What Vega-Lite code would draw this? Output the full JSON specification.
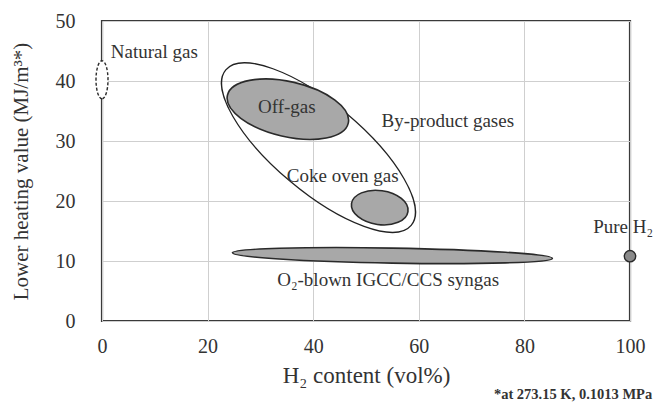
{
  "$schema": "https://vega.github.io/schema/vega-lite/v6.json",
  "width": 528,
  "height": 300,
  "autosize": {"type": "none"},
  "padding": {"left": 102, "top": 21, "right": 24, "bottom": 86},
  "background": "white",
  "config": {
    "view": {"stroke": "#3a3a3a", "strokeWidth": 2.2},
    "font": "Liberation Serif",
    "axis": {
      "labelFont": "Liberation Serif",
      "titleFont": "Liberation Serif",
      "labelColor": "#333333",
      "titleColor": "#333333",
      "gridColor": "#cfcfcf",
      "gridWidth": 1,
      "domain": false,
      "ticks": false,
      "labelFlush": false,
      "labelFontSize": 20,
      "titleFontWeight": "normal"
    }
  },
  "datasets": {
    "regions": [
      {"name": "By-product gases", "h2": 41.0, "lhv": 28.9},
      {"name": "Off-gas", "h2": 35.2, "lhv": 35.3},
      {"name": "Coke oven gas", "h2": 52.6, "lhv": 18.9},
      {"name": "O2-blown IGCC/CCS syngas", "h2": 55.0, "lhv": 10.9},
      {"name": "Natural gas", "h2": 0.0, "lhv": 40.2},
      {"name": "Pure H2", "h2": 100.0, "lhv": 10.8}
    ],
    "labels": [
      {"label": "Natural gas", "h2": 9.9, "lhv": 44.8},
      {"label": "Off-gas", "h2": 35.0, "lhv": 35.6},
      {"label": "By-product gases", "h2": 65.5, "lhv": 33.3},
      {"label": "Coke oven gas", "h2": 45.6, "lhv": 24.2},
      {"label": "O₂-blown IGCC/CCS syngas", "h2": 54.2, "lhv": 6.8},
      {"label": "Pure H₂", "h2": 98.7, "lhv": 15.6}
    ],
    "notes": [
      {"label": "*at 273.15 K, 0.1013 MPa", "h2": 104.2, "lhv": -12.4}
    ]
  },
  "encoding": {
    "x": {
      "field": "h2", "type": "quantitative",
      "scale": {"domain": [0, 100]},
      "axis": {"values": [0, 20, 40, 60, 80, 100], "labelPadding": 15, "title": "H₂ content (vol%)", "titleFontSize": 23, "titlePadding": 8}
    },
    "y": {
      "field": "lhv", "type": "quantitative",
      "scale": {"domain": [0, 50]},
      "axis": {"values": [0, 10, 20, 30, 40, 50], "labelPadding": 27, "title": "Lower heating value (MJ/m³*)", "titleFontSize": 21, "titlePadding": 24}
    }
  },
  "layer": [
    {
      "data": {"name": "regions"},
      "transform": [{"filter": "datum.name == 'By-product gases'"}],
      "mark": {"type": "point", "filled": false, "opacity": 1, "stroke": "#222222", "strokeWidth": 1.3, "size": 58564, "angle": 40,
        "shape": "M 1 0 C 1 0.201 0.552 0.364 0 0.364 C -0.552 0.364 -1 0.201 -1 0 C -1 -0.201 -0.552 -0.364 0 -0.364 C 0.552 -0.364 1 -0.201 1 0 Z"}
    },
    {
      "data": {"name": "regions"},
      "transform": [{"filter": "datum.name == 'Off-gas'"}],
      "mark": {"type": "point", "filled": true, "opacity": 1, "fill": "#a8a8a8", "stroke": "#2a2a2a", "strokeWidth": 1.6, "size": 15376, "angle": 13,
        "shape": "M 1 0 C 1 0.245 0.552 0.444 0 0.444 C -0.552 0.444 -1 0.245 -1 0 C -1 -0.245 -0.552 -0.444 0 -0.444 C 0.552 -0.444 1 -0.245 1 0 Z"}
    },
    {
      "data": {"name": "regions"},
      "transform": [{"filter": "datum.name == 'Coke oven gas'"}],
      "mark": {"type": "point", "filled": true, "opacity": 1, "fill": "#a8a8a8", "stroke": "#2a2a2a", "strokeWidth": 1.6, "size": 3249, "angle": 8,
        "shape": "M 1 0 C 1 0.33 0.552 0.597 0 0.597 C -0.552 0.597 -1 0.33 -1 0 C -1 -0.33 -0.552 -0.597 0 -0.597 C 0.552 -0.597 1 -0.33 1 0 Z"}
    },
    {
      "data": {"name": "regions"},
      "transform": [{"filter": "datum.name == 'O2-blown IGCC/CCS syngas'"}],
      "mark": {"type": "point", "filled": true, "opacity": 1, "fill": "#a8a8a8", "stroke": "#2a2a2a", "strokeWidth": 1.6, "size": 102400, "angle": 1,
        "shape": "M 1 0 C 1 0.026 0.552 0.047 0 0.047 C -0.552 0.047 -1 0.026 -1 0 C -1 -0.026 -0.552 -0.047 0 -0.047 C 0.552 -0.047 1 -0.026 1 0 Z"}
    },
    {
      "data": {"name": "regions"},
      "transform": [{"filter": "datum.name == 'Natural gas'"}],
      "mark": {"type": "point", "filled": true, "opacity": 1, "fill": "white", "stroke": "#2a2a2a", "strokeWidth": 1.4, "strokeDash": [3, 2], "size": 1444, "angle": 90,
        "shape": "M 1 0 C 1 0.175 0.552 0.316 0 0.316 C -0.552 0.316 -1 0.175 -1 0 C -1 -0.175 -0.552 -0.316 0 -0.316 C 0.552 -0.316 1 -0.175 1 0 Z"}
    },
    {
      "data": {"name": "regions"},
      "transform": [{"filter": "datum.name == 'Pure H2'"}],
      "mark": {"type": "point", "shape": "circle", "filled": true, "opacity": 1, "fill": "#8a8a8a", "stroke": "#2a2a2a", "strokeWidth": 1.4, "size": 130}
    },
    {
      "data": {"name": "labels"},
      "mark": {"type": "text", "font": "Liberation Serif", "fontSize": 19, "color": "#333333", "align": "center", "baseline": "middle"},
      "encoding": {"text": {"field": "label"}}
    },
    {
      "data": {"name": "notes"},
      "mark": {"type": "text", "font": "Liberation Serif", "fontSize": 14.5, "fontWeight": "bold", "color": "#333333", "align": "right", "baseline": "middle"},
      "encoding": {"text": {"field": "label"}}
    }
  ]
}
